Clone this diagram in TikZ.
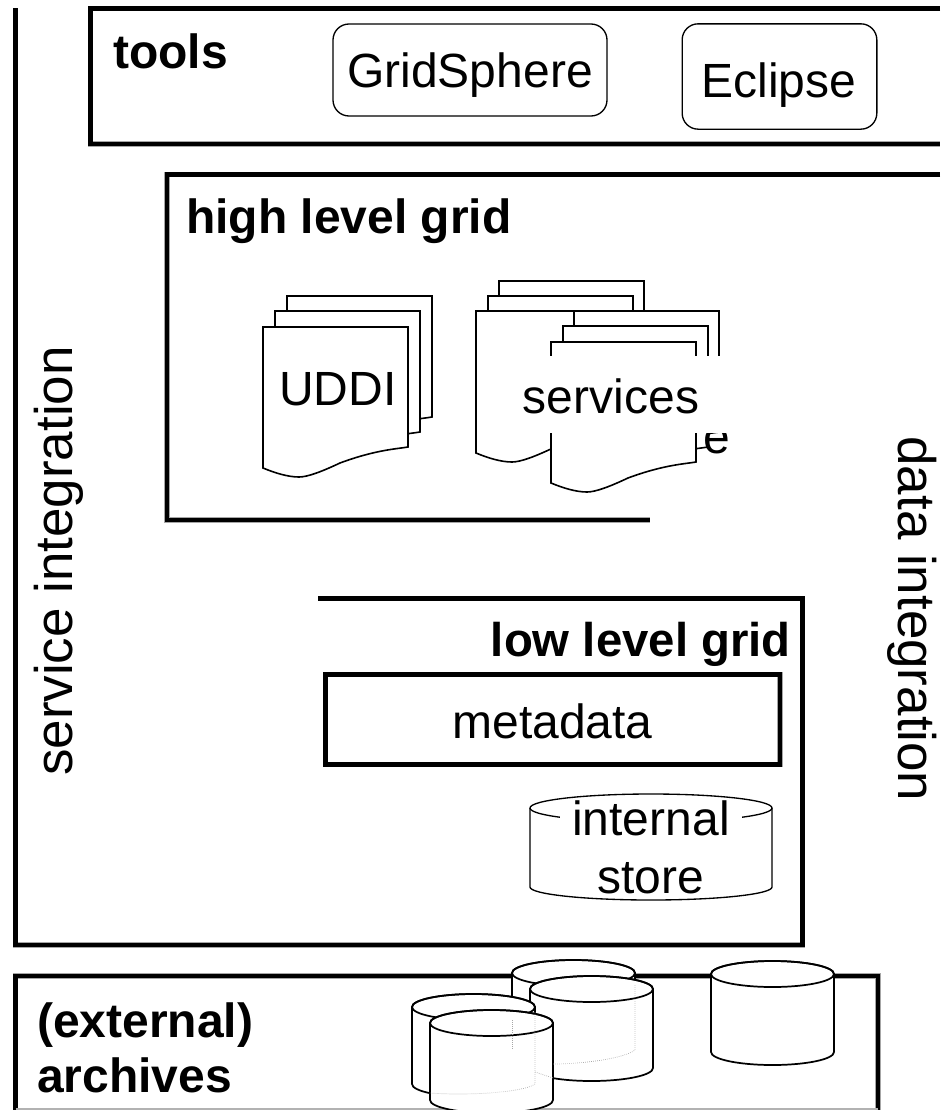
\documentclass[tikz,border=0pt]{standalone}
\usepackage{fontspec}
\setmainfont{Liberation Sans}
\newcommand{\cylshape}[5]{% x0 x1 ytop-center yside-bottom ry
  \path[thinline,fill=white] (#1,#3) -- (#1,#4) arc[start angle=180,end angle=0,x radius={(#2-#1)/2},y radius=#5] -- (#2,#3) arc[start angle=0,end angle=-180,x radius={(#2-#1)/2},y radius=#5] -- cycle;
  \draw[thinline] (#1,#3) arc[start angle=180,end angle=-180,x radius={(#2-#1)/2},y radius=#5];
}
\newcommand{\docshape}[3]{% x0 ytop ybottom-right
  \path[docline,fill=white] (#1,#2) -- (#1+145,#2) -- (#1+145,#3)
    .. controls (#1+133,#3+2) and (#1+112,#3+3) .. (#1+77,#3+16)
    .. controls (#1+60,#3+24) and (#1+45,#3+30) .. (#1+36,#3+30)
    .. controls (#1+25,#3+30) and (#1+12,#3+26) .. (#1,#3+21) -- cycle;
}
\tikzset{
  x=0.75pt,y=-0.75pt,
  thickline/.style={preaction={draw=black!35,line width=4.2pt},draw=black,line width=3.6pt,line cap=butt,line join=miter},
  thinline/.style={draw=black,line width=1.3pt},
  storeline/.style={draw=black,line width=1pt},
  docline/.style={draw=black,line width=1.2pt},
  roundbox/.style={draw=black,line width=1pt,rounded corners=12pt},
  faint/.style={draw=black!35,line width=0.5pt,densely dotted},
  label/.style={inner sep=0pt,font=\fontsize{36}{36}\selectfont},
  sidelabel/.style={inner sep=0pt,font=\fontsize{39.7}{40}\selectfont},
  boldlabel/.style={inner sep=0pt,font=\fontsize{36}{36}\selectfont\bfseries},
}
\begin{document}
\begin{tikzpicture}
\path[use as bounding box,fill=white] (0,0) rectangle (940,1110);
\begin{scope}
\clip (0,0) rectangle (940,1110);
% frames
\draw[thickline] (940,8.5) -- (90.5,8.5) -- (90.5,144) -- (940,144);
\draw[thickline] (940,174.5) -- (167,174.5) -- (167,520) -- (650,520);
\draw[thickline] (15.5,8) -- (15.5,945) -- (802.5,945) -- (802.5,598.5) -- (318,598.5);
\draw[thickline] (325.5,674.5) rectangle (780,764.5);
\draw[thickline] (15.5,1110) -- (15.5,976) -- (878,976) -- (878,1110);
\draw[black!30,line width=0.8pt] (15.5,1109) -- (878,1109);
% tools
\node[roundbox,minimum width=205.5pt,minimum height=69pt,inner sep=0pt] (gs) at (470,70) {};
\node[label,anchor=base] (gst) at (470,87) {GridSphere};
\node[roundbox,minimum width=146pt,minimum height=79pt,inner sep=0pt] (ec) at (779.5,76.5) {};
\node[label,anchor=base] (ect) at (779,97) {Eclipse};
\node[boldlabel,anchor=base west] (tl) at (113,68) {tools};
\node[boldlabel,anchor=base west] (hl) at (186,233) {high level grid};
\node[boldlabel,font=\fontsize{35.5}{36}\selectfont\bfseries,anchor=base east] (ll) at (791,656) {low level grid};
\node[label,anchor=base] (md) at (552.5,738) {metadata};
% UDDI documents
\docshape{287}{296}{417}
\docshape{275}{311}{432}
\docshape{263}{327}{447}
\node[label,anchor=base] (ud) at (338,405) {UDDI};
% services documents
\docshape{499}{281}{402}
\docshape{488}{296}{417}
\docshape{476}{311}{432}
\docshape{574}{311}{432}
\docshape{563}{326}{447}
\docshape{551}{342}{462}
\node[label,anchor=base west] (ee) at (703,453) {e};
\fill[white] (500,356) rectangle (735,433);
\node[label,anchor=base] (sv) at (611,413) {services};
% internal store
\path[storeline,fill=white] (530,808) -- (530,887) arc[start angle=180,end angle=0,x radius=121,y radius=13] -- (772,808) arc[start angle=0,end angle=-180,x radius=121,y radius=14] -- cycle;
\draw[storeline] (530,808) arc[start angle=180,end angle=0,x radius=121,y radius=14];
\fill[white] (560,802) rectangle (742,845);
\node[label,anchor=base] (is) at (651,835) {internal};
\node[label,anchor=base] (st) at (651,893) {store};
% archives
\cylshape{512}{635}{973}{1040}{13}
\cylshape{530}{653}{989}{1068}{13}
\cylshape{711}{834}{974}{1052}{13}
\cylshape{412}{535}{1007}{1084}{13}
\cylshape{430}{553}{1023}{1100}{13}
\draw[faint] (635,985) -- (635,1050) .. controls (625,1058) and (585,1064) .. (553,1064);
\draw[faint] (535,1012) -- (535,1084) .. controls (525,1092) and (470,1096) .. (430,1093);
\draw[faint] (512,1020) -- (512,1050);
\draw[faint] (535,1072) -- (553,1078);
\node[boldlabel,anchor=base west] (ex) at (37,1037) {(external)};
\node[boldlabel,anchor=base west] (ar) at (37,1092) {archives};
% side labels
\node[sidelabel,anchor=base,rotate=90] (si) at (72,561) {service integration};
\node[sidelabel,anchor=base,rotate=-90] (di) at (898,619) {data integration};
\end{scope}
\end{tikzpicture}
\end{document}
